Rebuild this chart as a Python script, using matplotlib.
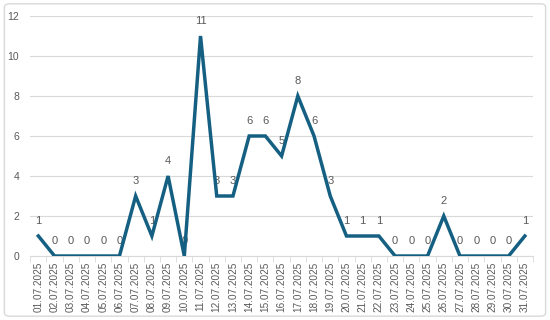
import matplotlib
matplotlib.use("Agg")
import matplotlib.pyplot as plt
from matplotlib.patches import FancyBboxPatch

plt.rcParams['font.family'] = ['Liberation Sans', 'DejaVu Sans']

# Daten
dates = ["%02d.07.2025" % d for d in range(1, 32)]
values = [1, 0, 0, 0, 0, 0, 3, 1, 4, 0, 11, 3, 3, 6, 6, 5, 8, 6, 3, 1, 1, 1,
          0, 0, 0, 2, 0, 0, 0, 0, 1]
yticks = [0, 2, 4, 6, 8, 10, 12]

linecol = '#156082'
txtcol = '#595959'
gridcol = '#d9d9d9'

fig = plt.figure(figsize=(5.5, 3.2), dpi=100)
# Rahmen um das Diagramm
border = FancyBboxPatch((0.008, 0.012), 0.984, 0.976, boxstyle="round,pad=0,rounding_size=0.01",
                        transform=fig.transFigure, fill=False, edgecolor='#d9d9d9', linewidth=1)
fig.patches.append(border)

ax = fig.add_axes([0.055, 0.2, 0.914, 0.75])
x = list(range(len(dates)))
ax.plot(x, values, color=linecol, linewidth=2.5, solid_joinstyle='miter', zorder=3)

for xi, v in zip(x, values):
    ax.annotate(str(v), (xi, v), xytext=(0, 7), textcoords='offset points',
                ha='center', va='bottom', fontsize=8, color=txtcol, zorder=2)

ax.set_xlim(-0.5, len(dates) - 0.5)
ax.set_ylim(0, 12)
ax.set_yticks(yticks)
ax.set_xticks(x)
ax.set_xticklabels(dates, rotation=90, fontsize=7.2, color=txtcol)
ax.tick_params(axis='y', length=0, labelsize=7.5, labelcolor=txtcol, pad=8)
ax.tick_params(axis='x', length=0, pad=4)
ax.set_xticks([i - 0.5 for i in range(len(dates) + 1)], minor=True)
ax.tick_params(axis='x', which='minor', length=4, color=gridcol)

ax.grid(axis='y', color=gridcol, linewidth=0.8)
ax.set_axisbelow(True)
for s in ['top', 'right', 'left']:
    ax.spines[s].set_visible(False)
ax.spines['bottom'].set_color(gridcol)

fig.savefig('out.png', dpi=100)
